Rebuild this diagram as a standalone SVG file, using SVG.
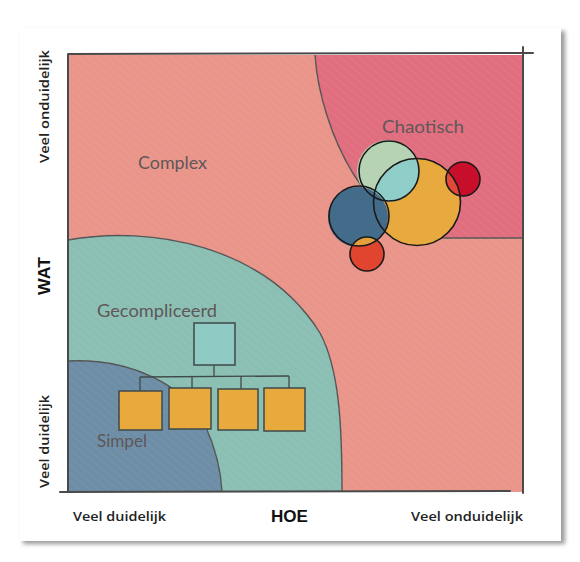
<svg xmlns="http://www.w3.org/2000/svg" width="580" height="562" viewBox="0 0 580 562">
  <defs>
    <filter id="blur" x="-5%" y="-5%" width="110%" height="110%"><feGaussianBlur stdDeviation="2"/></filter>
    <pattern id="hatch" width="6" height="6" patternUnits="userSpaceOnUse" patternTransform="rotate(-50)">
      <line x1="0" y1="0" x2="0" y2="6" stroke="#ffffff" stroke-opacity="0.07" stroke-width="1.5"/>
    </pattern>
    <clipPath id="clipYellow"><circle cx="417" cy="202" r="43.5"/></clipPath>
    <clipPath id="clipBlue"><circle cx="359" cy="216" r="30"/></clipPath>
    <clipPath id="plot"><rect x="68" y="55" width="455" height="437"/></clipPath>
  </defs>
  <style>
    .axis { stroke: #4a4a4a; stroke-width: 2; fill: none; stroke-linecap: round; }
    .edge { stroke: #555; stroke-width: 1.4; fill: none; }
    .hand { font-family: "Lato", "Open Sans", "Liberation Sans", sans-serif; font-weight: 400; font-size: 17px; fill: #5f5759; }
    .lbl { font-family: "Open Sans", "Liberation Sans", sans-serif; font-weight: 600; font-size: 13px; fill: #222222; }
    .bold { font-family: "Liberation Sans", "Open Sans", sans-serif; font-weight: bold; font-size: 17px; fill: #111; }
    .ring { fill: none; stroke: #1a1a1a; stroke-width: 1.6; }
    .box { stroke: #3f4a48; stroke-width: 1.5; }
    .link { stroke: #3f4a48; stroke-width: 1.3; fill: none; }
  </style>

  <rect width="580" height="562" fill="#ffffff"/>
  <!-- card -->
  <rect x="23" y="31" width="542" height="513" fill="#9a9a9a" filter="url(#blur)"/>
  <rect x="20" y="28" width="541" height="513" fill="#ffffff"/>

  <!-- regions -->
  <g id="complex">
    <rect x="68" y="55" width="455" height="437" fill="#e9958a"/>
  </g>
  <g id="chaotisch-region" clip-path="url(#plot)">
    <path d="M315,55 C320,130 370,238 445,238 L523,238 L523,55 Z" fill="#e16e7f"/>
    <path class="edge" d="M315,55 C320,130 370,238 445,238 L523,238"/>
  </g>
  <g id="gecompliceerd-region" clip-path="url(#plot)">
    <path d="M68,240 C150,225 265,245 320,333 C340,370 342,430 342,492 L68,492 Z" fill="#8bbfb3"/>
    <path class="edge" d="M68,240 C150,225 265,245 320,333 C340,370 342,430 342,492"/>
  </g>
  <g id="simpel-region" clip-path="url(#plot)">
    <path d="M68,361 C130,358 185,385 205,425 C215,447 221,470 222,492 L68,492 Z" fill="#6d8ea6"/>
    <path class="edge" d="M68,361 C130,358 185,385 205,425 C215,447 221,470 222,492"/>
  </g>
  <rect x="68" y="55" width="455" height="437" fill="url(#hatch)"/>

  <!-- axes -->
  <g id="axes">
    <path class="axis" d="M68,55 L68,492"/>
    <path class="axis" d="M68,54 L533,53"/>
    <path class="axis" d="M523,47 L523,493"/>
    <path class="axis" d="M60,492 L510,491"/>
  </g>

  <!-- chaos circles -->
  <g id="chaos-circles">
    <circle cx="388" cy="171" r="31" fill="#b6d3b4"/>
    <circle cx="417" cy="202" r="43.5" fill="#e8aa3e"/>
    <circle cx="388" cy="171" r="31" fill="#8fcdc8" clip-path="url(#clipYellow)"/>
    <circle cx="463" cy="179" r="17" fill="#c70f2c"/>
    <circle cx="463" cy="179" r="17" fill="#e2483a" clip-path="url(#clipYellow)"/>
    <circle cx="358" cy="217" r="30" fill="#436b8a"/>
    <circle cx="367" cy="254" r="17" fill="#e2452f"/>
    <circle cx="367" cy="254" r="17" fill="#e3a03c" clip-path="url(#clipBlue)"/>
    <circle class="ring" cx="389" cy="171" r="30"/>
    <circle class="ring" cx="417" cy="202" r="43.5"/>
    <circle class="ring" cx="463" cy="179" r="17"/>
    <circle class="ring" cx="359" cy="216" r="30"/>
    <circle class="ring" cx="367" cy="254" r="17"/>
  </g>

  <!-- org chart connectors -->
  <g id="connectors">
    <path class="link" d="M214,365 L214,377"/>
    <path class="link" d="M140,377 L289,376"/>
    <path class="link" d="M140,377 L140,391"/>
    <path class="link" d="M192,377 L192,388"/>
    <path class="link" d="M241,376 L241,389"/>
    <path class="link" d="M289,376 L289,388"/>
  </g>
  <g id="org-top"><rect class="box" x="194" y="323" width="41" height="42" fill="#8fcac4"/></g>
  <g id="org-1"><rect class="box" x="119" y="391" width="43" height="39" fill="#e8a93d"/></g>
  <g id="org-2"><rect class="box" x="169" y="388" width="42" height="41" fill="#e8a93d"/></g>
  <g id="org-3"><rect class="box" x="218" y="389" width="40" height="41" fill="#e8a93d"/></g>
  <g id="org-4"><rect class="box" x="264" y="388" width="41" height="43" fill="#e8a93d"/></g>

  <!-- region labels -->
  <g id="labels">
    <text class="hand" x="138" y="169" textLength="69" lengthAdjust="spacingAndGlyphs">Complex</text>
    <text class="hand" x="382" y="133" textLength="82" lengthAdjust="spacingAndGlyphs">Chaotisch</text>
    <text class="hand" x="97" y="317" textLength="120" lengthAdjust="spacingAndGlyphs">Gecompliceerd</text>
    <text class="hand" x="97" y="447" textLength="50" lengthAdjust="spacingAndGlyphs">Simpel</text>
  </g>

  <!-- axis labels -->
  <g id="axis-labels">
    <text class="lbl" transform="translate(49,163) rotate(-90)" textLength="113" lengthAdjust="spacingAndGlyphs">Veel onduidelijk</text>
    <text class="bold" transform="translate(50,295) rotate(-90)" textLength="38" lengthAdjust="spacingAndGlyphs">WAT</text>
    <text class="lbl" transform="translate(49,488) rotate(-90)" textLength="93" lengthAdjust="spacingAndGlyphs">Veel duidelijk</text>
    <text class="lbl" x="73" y="521" textLength="93" lengthAdjust="spacingAndGlyphs">Veel duidelijk</text>
    <text class="bold" x="271" y="522" textLength="37" lengthAdjust="spacingAndGlyphs">HOE</text>
    <text class="lbl" x="411" y="521" textLength="112" lengthAdjust="spacingAndGlyphs">Veel onduidelijk</text>
  </g>
</svg>
